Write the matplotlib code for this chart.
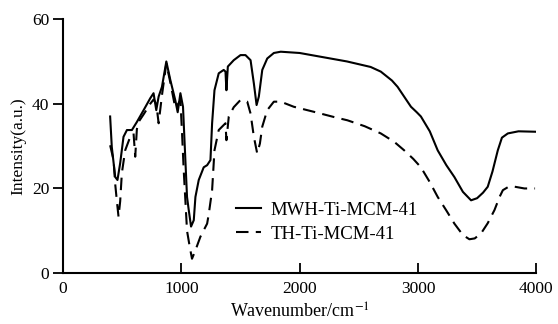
import matplotlib
matplotlib.use("Agg")
import matplotlib.pyplot as plt

plt.rcParams['font.family'] = ['Liberation Serif', 'DejaVu Serif']
plt.rcParams['mathtext.fontset'] = 'stix'

### Data ###
mwh_wn = [398, 412, 441, 460, 483, 511, 540, 582, 624, 681, 737, 765, 788, 808,
          836, 873, 907, 949, 969, 992, 1014, 1034, 1048, 1062, 1082, 1105, 1119,
          1147, 1189, 1218, 1246, 1260, 1280, 1316, 1358, 1373, 1381, 1393, 1443,
          1500, 1542, 1585, 1613, 1636, 1655, 1684, 1726, 1782, 1840, 2000, 2100,
          2400, 2600, 2686, 2780, 2828, 2900, 2941, 2990, 3025, 3100, 3167, 3240,
          3308, 3380, 3449, 3500, 3550, 3590, 3630, 3675, 3710, 3760, 3850, 3990]
mwh_int = [37, 29.8, 22.7, 22, 26, 32.2, 33.8, 33.8, 35.7, 38.5, 41.3, 42.5, 38.5, 41.7,
           44, 50, 45.6, 40.8, 38, 42.5, 39.3, 26.7, 18, 15, 11, 12.5, 18,
           22, 25, 25.5, 26.7, 35.4, 43.2, 47.2, 48, 47.6, 43.2, 48.8, 50.3,
           51.5, 51.5, 50.3, 44.8, 39.7, 41.7, 48, 50.7, 52, 52.3, 52, 51.5,
           50, 48.7, 47.6, 45.5, 44, 41, 39.3, 38, 37, 33.5, 29, 25.5,
           22.7, 19.2, 17.2, 17.7, 19, 20.4, 24, 29, 32, 33, 33.5, 33.4]

th_wn = [398, 427, 441, 455, 469, 483, 497, 525, 568, 596, 610, 624, 638, 681,
         737, 765, 788, 808, 836, 873, 907, 949, 992, 1006, 1020, 1034, 1048, 1071,
         1090, 1119, 1161, 1218, 1232, 1260, 1280, 1316, 1373, 1381, 1401, 1443,
         1500, 1557, 1585, 1613, 1641, 1664, 1684, 1726, 1782, 1840, 1950, 2121,
         2300, 2404, 2550, 2686, 2800, 2884, 2960, 3025, 3100, 3167, 3240, 3308,
         3380, 3435, 3480, 3534, 3590, 3647, 3690, 3718, 3760, 3800, 3900, 3990]
th_int = [30.2, 26.7, 21, 17, 13.3, 17, 23.6, 29, 32.2, 33, 27.5, 34, 35.7, 37.5,
          40, 41, 40, 35.4, 42, 49.5, 45, 39, 40.8, 33, 24.3, 17.2, 10, 6.2,
          3.4, 5.4, 8.6, 11.7, 14, 19.6, 29, 33.8, 35.4, 31.4, 37, 39.2,
          40.9, 40.5, 37.7, 32.2, 28.3, 30.6, 34.6, 38.5, 40.5, 40.5, 39.3, 38.1,
          36.8, 36.1, 34.7, 33, 31, 29, 27, 25, 21.5, 18, 14.8, 11.7,
          9, 8, 8.2, 9.4, 11.8, 14.9, 18, 19.6, 20.3, 20.5, 20, 20]

x_ticks = [0, 1000, 2000, 3000, 4000]
y_ticks = [0, 20, 40, 60]

### Plot ###
fig = plt.figure(figsize=(5.58, 3.24), dpi=100)
ax = fig.add_axes([0.113, 0.157, 0.848, 0.784])

ax.plot(mwh_wn, mwh_int, color='black', lw=1.5, label='MWH-Ti-MCM-41')
ax.plot(th_wn, th_int, color='black', lw=1.5, dashes=(6, 3.5), label='TH-Ti-MCM-41')

ax.set_xlim(0, 4000)
ax.set_ylim(0, 60)
ax.set_xticks(x_ticks)
ax.set_yticks(y_ticks)
ax.spines['top'].set_visible(False)
ax.spines['right'].set_visible(False)
ax.spines['left'].set_linewidth(1.5)
ax.spines['bottom'].set_linewidth(1.5)
ax.tick_params(axis='x', direction='in', length=7, width=1.3, labelsize=12.5, pad=6)
ax.tick_params(axis='y', direction='out', length=7, width=1.3, labelsize=12.5, pad=3)

ax.set_xlabel('Wavenumber/cm$^{-1}$', fontsize=13)
ax.set_ylabel('Intensity(a.u.)', fontsize=12.5)

ax.legend(loc='lower left', bbox_to_anchor=(0.366, 0.12), frameon=False,
          fontsize=13.5, handlelength=1.3, handletextpad=0.55, labelspacing=0.35,
          borderpad=0, borderaxespad=0)

fig.savefig('out.png', dpi=100)
